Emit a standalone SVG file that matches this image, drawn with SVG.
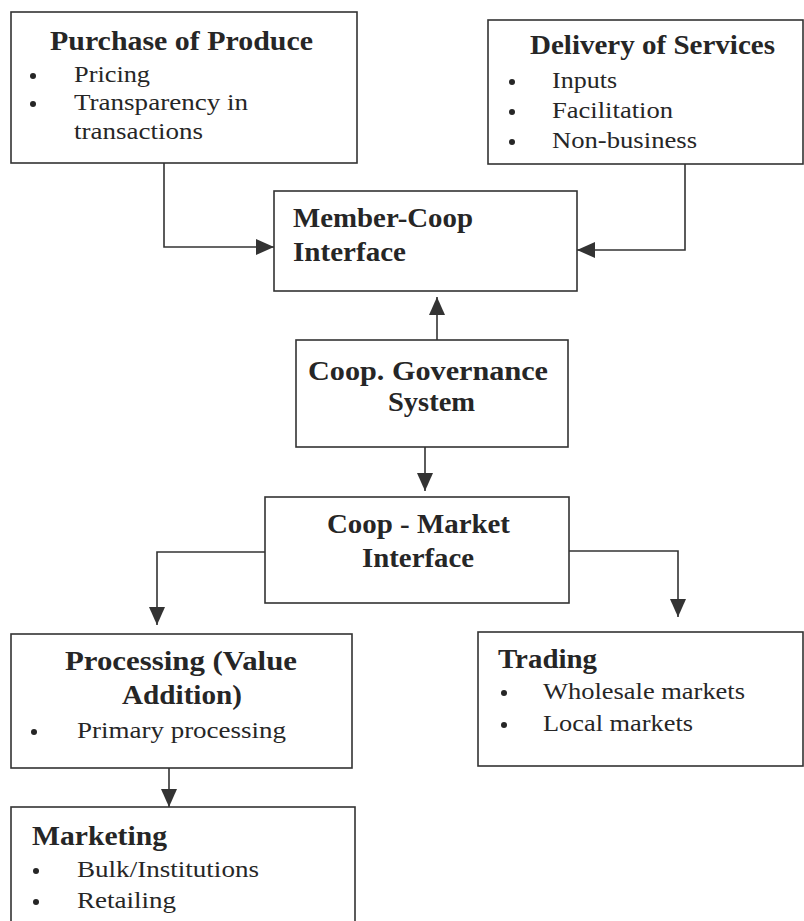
<svg xmlns="http://www.w3.org/2000/svg" width="804" height="921" viewBox="0 0 804 921">
<defs>
<marker id="ah" markerUnits="userSpaceOnUse" markerWidth="18" markerHeight="16" refX="18" refY="8" orient="auto">
<path d="M0,0 L18,8 L0,16 Z" fill="#333"/>
</marker>
<style>
.box{fill:#fff;stroke:#333;stroke-width:1.6}
.t{font-family:"Liberation Serif","Times New Roman",serif;font-size:26.5px;font-weight:bold;fill:#262626}
.b{font-family:"Liberation Serif","Times New Roman",serif;font-size:24px;fill:#262626}
.dot{fill:#262626}
.c{fill:none;stroke:#333;stroke-width:1.6;marker-end:url(#ah)}
</style>
</defs>
<rect width="804" height="921" fill="#fff"/>
<g id="connectors">
<path class="c" d="M164,163 V247 H274"/>
<path class="c" d="M685,164 V250 H577"/>
<path class="c" d="M437,340 V297"/>
<path class="c" d="M425,447 V491"/>
<path class="c" d="M265,552 H157 V625"/>
<path class="c" d="M569,551 H678 V617"/>
<path class="c" d="M169,768 V807"/>
</g>
<g id="purchase">
<rect class="box" x="11" y="12" width="346" height="151"/>
<text class="t" x="50" y="50" textLength="263" lengthAdjust="spacingAndGlyphs">Purchase of Produce</text>
<circle class="dot" cx="33" cy="76" r="3"/>
<text class="b" x="74" y="82" textLength="76" lengthAdjust="spacingAndGlyphs">Pricing</text>
<circle class="dot" cx="33" cy="104" r="3"/>
<text class="b" x="74" y="110" textLength="174" lengthAdjust="spacingAndGlyphs">Transparency in</text>
<text class="b" x="74" y="139" textLength="129" lengthAdjust="spacingAndGlyphs">transactions</text>
</g>
<g id="delivery">
<rect class="box" x="488" y="20" width="315" height="144"/>
<text class="t" x="530" y="54" textLength="245" lengthAdjust="spacingAndGlyphs">Delivery of Services</text>
<circle class="dot" cx="512" cy="82" r="3"/>
<text class="b" x="552" y="88" textLength="65" lengthAdjust="spacingAndGlyphs">Inputs</text>
<circle class="dot" cx="512" cy="112" r="3"/>
<text class="b" x="552" y="118" textLength="121" lengthAdjust="spacingAndGlyphs">Facilitation</text>
<circle class="dot" cx="512" cy="142" r="3"/>
<text class="b" x="552" y="148" textLength="145" lengthAdjust="spacingAndGlyphs">Non-business</text>
</g>
<g id="member">
<rect class="box" x="274" y="191" width="303" height="100"/>
<text class="t" x="293" y="227" textLength="180" lengthAdjust="spacingAndGlyphs">Member-Coop</text>
<text class="t" x="293" y="261" textLength="113" lengthAdjust="spacingAndGlyphs">Interface</text>
</g>
<g id="governance">
<rect class="box" x="296" y="340" width="272" height="107"/>
<text class="t" x="308" y="380" textLength="240" lengthAdjust="spacingAndGlyphs">Coop. Governance</text>
<text class="t" x="388" y="411" textLength="87" lengthAdjust="spacingAndGlyphs">System</text>
</g>
<g id="market">
<rect class="box" x="265" y="497" width="304" height="106"/>
<text class="t" x="327" y="533" textLength="183" lengthAdjust="spacingAndGlyphs">Coop - Market</text>
<text class="t" x="362" y="567" textLength="112" lengthAdjust="spacingAndGlyphs">Interface</text>
</g>
<g id="processing">
<rect class="box" x="11" y="634" width="341" height="134"/>
<text class="t" x="65" y="670" textLength="232" lengthAdjust="spacingAndGlyphs">Processing  (Value</text>
<text class="t" x="122" y="704" textLength="120" lengthAdjust="spacingAndGlyphs">Addition)</text>
<circle class="dot" cx="34" cy="732" r="3"/>
<text class="b" x="77" y="738" textLength="209" lengthAdjust="spacingAndGlyphs">Primary processing</text>
</g>
<g id="trading">
<rect class="box" x="478" y="632" width="325" height="134"/>
<text class="t" x="498" y="668" textLength="99" lengthAdjust="spacingAndGlyphs">Trading</text>
<circle class="dot" cx="504" cy="693" r="3"/>
<text class="b" x="543" y="699" textLength="202" lengthAdjust="spacingAndGlyphs">Wholesale markets</text>
<circle class="dot" cx="504" cy="725" r="3"/>
<text class="b" x="543" y="731" textLength="150" lengthAdjust="spacingAndGlyphs">Local markets</text>
</g>
<g id="marketing">
<rect class="box" x="11" y="807" width="344" height="130"/>
<text class="t" x="32" y="845" textLength="135" lengthAdjust="spacingAndGlyphs">Marketing</text>
<circle class="dot" cx="36" cy="871" r="3"/>
<text class="b" x="77" y="877" textLength="182" lengthAdjust="spacingAndGlyphs">Bulk/Institutions</text>
<circle class="dot" cx="36" cy="902" r="3"/>
<text class="b" x="77" y="908" textLength="99" lengthAdjust="spacingAndGlyphs">Retailing</text>
</g>
</svg>
